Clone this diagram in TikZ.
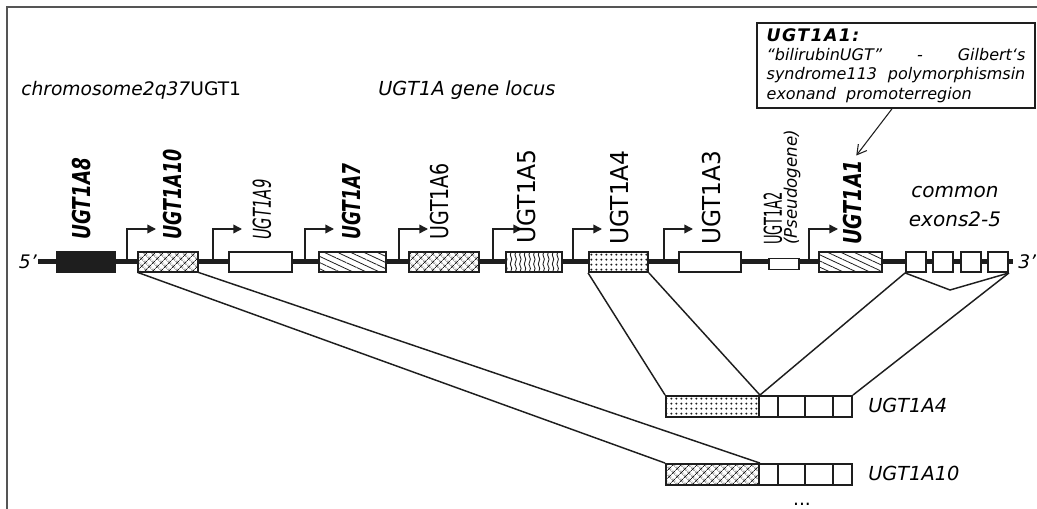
\documentclass[tikz,border=0pt]{standalone}
\usepackage{fontspec}
\setmainfont{DejaVu Sans}
\usetikzlibrary{patterns,patterns.meta,arrows.meta}
\newlength{\pxl}\setlength{\pxl}{0.75pt}
\definecolor{ink}{HTML}{1E1E1E}
\definecolor{framec}{HTML}{555555}
\pgfdeclarepatternformonly{vwaves}{\pgfqpoint{-0.5pt}{-0.5pt}}{\pgfqpoint{4pt}{7.5pt}}{\pgfqpoint{3.5pt}{7pt}}{%
 \pgfsetlinewidth{0.65pt}%
 \pgfpathmoveto{\pgfqpoint{1.75pt}{0pt}}%
 \pgfpathcurveto{\pgfqpoint{-0.2pt}{1.75pt}}{\pgfqpoint{3.7pt}{5.25pt}}{\pgfqpoint{1.75pt}{7pt}}%
 \pgfusepath{stroke}}
\tikzset{
 gene/.style={draw=ink, line width=1.4pt, inner sep=0pt, minimum height=20\pxl},
 plain/.style={gene, fill=white},
 solid/.style={gene, fill=ink},
 hexa/.style={gene, preaction={fill=white}, pattern={Hatch[angle=45,distance=4pt,line width=0.6pt]}, pattern color=ink},
 diag/.style={gene, preaction={fill=white}, pattern={Lines[angle=-25,distance=4.2pt,line width=0.6pt]}, pattern color=ink},
 wave/.style={gene, preaction={fill=white}, pattern=vwaves, pattern color=ink},
 dotty/.style={gene, preaction={fill=white}, pattern={Dots[radius=0.9pt,distance=4pt]}, pattern color=ink},
 chrom/.style={draw=ink, line width=5\pxl},
 prom/.style={draw=ink, line width=1.1pt, -{Triangle[length=6.5pt,width=6.5pt]}},
 link/.style={draw=ink, line width=1.1pt},
 glab/.style={rotate=90, anchor=west, inner sep=0pt, font=\fontsize{18.5}{22}\selectfont},
 glabR/.style={glab},
 glabB/.style={glab, font=\fontsize{18.5}{22}\selectfont\bfseries\itshape},
 glabI/.style={glab, font=\fontsize{18.5}{22}\selectfont\itshape},
 htext/.style={inner sep=0pt, font=\fontsize{14}{17}\selectfont\itshape},
 callout/.style={draw=ink, line width=1.2pt, fill=white, minimum width=278\pxl, minimum height=85\pxl, inner sep=0pt, align=left, font=\fontsize{12}{14.5}\selectfont\itshape},
 callarr/.style={draw=ink, line width=0.8pt, -{Straight Barb[length=7pt,width=8pt]}, shorten >=4pt},
 framel/.style={draw=framec, line width=1.2pt}
}
\begin{document}
\begin{tikzpicture}[x=0.75pt,y=-0.75pt]
\useasboundingbox (0,0) rectangle (1037,509);
% frame
\draw[framel] (7,509) -- (7,7) -- (1037,7);
% chromosome line
\coordinate (L5) at (38,262);
\coordinate (L3) at (1013,262);
\draw[chrom] (L5) -- (L3);
\node[htext, anchor=east] (five) at (37,262) {5’};
\node[htext, anchor=west] (three) at (1018,262) {3’};
% promoters
\foreach \n/\x in {10/127, 9/213, 7/305, 6/399, 5/493, 4/573, 3/664, 1/809}{
  \coordinate (p\n) at (\x,262);
  \draw[prom] (p\n) |- ++(29,-33);
}
% gene boxes
\node[solid, minimum width=58\pxl] (g8) at (86,262) {};
\node[hexa, minimum width=60\pxl] (g10) at (168,262) {};
\node[plain, minimum width=63\pxl] (g9) at (260.5,262) {};
\node[diag, minimum width=67\pxl] (g7) at (352.5,262) {};
\node[hexa, minimum width=70\pxl] (g6) at (444,262) {};
\node[wave, minimum width=56\pxl] (g5) at (534,262) {};
\node[dotty, minimum width=59\pxl] (g4) at (618.5,262) {};
\node[plain, minimum width=62\pxl] (g3) at (710,262) {};
\node[plain, minimum width=30\pxl, minimum height=11\pxl] (g2) at (784,264) {};
\node[diag, minimum width=63\pxl] (g1) at (850.5,262) {};
\node[plain, minimum width=20\pxl] (ex1) at (916,262) {};
\node[plain, minimum width=20\pxl] (ex2) at (943,262) {};
\node[plain, minimum width=20\pxl] (ex3) at (971,262) {};
\node[plain, minimum width=20\pxl] (ex4) at (998,262) {};
% gene labels
\node[glabB, xscale=.744] (lA8) at (82,240) {UGT1A8};
\node[glabB, xscale=.709] (lA10) at (173,240) {UGT1A10};
\node[glabI, xscale=.60] (lA9) at (262,240) {UGT1A9};
\node[glabB, xscale=.692] (lA7) at (352,240) {UGT1A7};
\node[glabR, xscale=.77] (lA6) at (440,240) {UGT1A6};
\node[glabR, xscale=.95] (lA5) at (527,244) {UGT1A5};
\node[glabR, xscale=.95] (lA4) at (620,245) {UGT1A4};
\node[glabR, xscale=.94] (lA3) at (712,245) {UGT1A3};
\node[glabR, xscale=.53] (lA2) at (773,245) {UGT1A2};
\node[glab, font=\fontsize{13}{15}\selectfont\itshape, xscale=.96] (lPs) at (792,245) {(Pseudogene)};
\node[glabB, xscale=.77] (lA1) at (853,245) {UGT1A1};
% headings
\node[htext, anchor=west] (chr) at (21,90) {chromosome2q37{\upshape UGT1}};
\node[htext, anchor=west, font=\fontsize{14.5}{17}\selectfont\itshape] (loc) at (378,90) {UGT1A gene locus};
\node[inner sep=0pt, align=center, font=\fontsize{15}{21.7}\selectfont\itshape] (cex) at (955,207) {common\\exons2-5};
% callout
\node[callout] (call) at (896,65.5) {{\fontsize{13}{14.5}\selectfont\bfseries\addfontfeature{LetterSpace=8}UGT1A1:}\\
\makebox[194pt][s]{“bilirubinUGT”\hfill-\hfill Gilbert‘s}\\
\makebox[194pt][s]{syndrome113\hfill polymorphismsin}\\
exonand\ \ promoterregion};
\draw[callarr] ([xshift=-3pt]call.south) -- (lA1.east);
% transcripts
\node[dotty, minimum width=93\pxl, minimum height=21\pxl] (t4) at (712.5,406.5) {};
\node[plain, minimum width=19\pxl, minimum height=21\pxl] (t4a) at (768.5,406.5) {};
\node[plain, minimum width=27\pxl, minimum height=21\pxl] (t4b) at (791.5,406.5) {};
\node[plain, minimum width=28\pxl, minimum height=21\pxl] (t4c) at (819,406.5) {};
\node[plain, minimum width=19\pxl, minimum height=21\pxl] (t4d) at (842.5,406.5) {};
\node[hexa, minimum width=93\pxl, minimum height=21\pxl] (t10) at (712.5,474.5) {};
\node[plain, minimum width=19\pxl, minimum height=21\pxl] (t10a) at (768.5,474.5) {};
\node[plain, minimum width=27\pxl, minimum height=21\pxl] (t10b) at (791.5,474.5) {};
\node[plain, minimum width=28\pxl, minimum height=21\pxl] (t10c) at (819,474.5) {};
\node[plain, minimum width=19\pxl, minimum height=21\pxl] (t10d) at (842.5,474.5) {};
\node[htext, anchor=west, font=\fontsize{14.5}{17}\selectfont\itshape] (n4) at (868,405) {UGT1A4};
\node[htext, anchor=west, font=\fontsize{14.5}{17}\selectfont\itshape] (n10) at (868,473) {UGT1A10};
\node[inner sep=0pt, font=\fontsize{14}{17}\selectfont] (dots) at (802,504) {...};
% connectors
\draw[link] (g10.south west) -- (t10.north west);
\draw[link] (g10.south east) -- (t10.north east);
\draw[link] (g4.south west) -- (t4.north west);
\draw[link] (g4.south east) -- (t4.north east);
\draw[link] (ex1.south west) -- (t4.north east);
\draw[link] (ex4.south east) -- (t4d.north east);
\coordinate (spl) at (950,290);
\draw[link] (ex1.south west) -- (spl) -- (ex4.south east);
\end{tikzpicture}
\end{document}
